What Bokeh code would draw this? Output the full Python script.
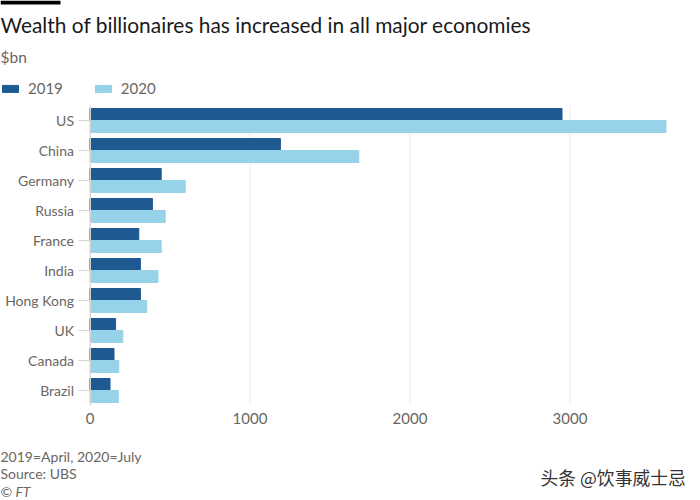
from bokeh.embed import file_html
from bokeh.models import BoxAnnotation, ColumnDataSource, FixedTicker, Label, Legend, LegendItem, Range1d
from bokeh.plotting import figure
from bokeh.resources import INLINE
from bokeh.transform import dodge

countries = ["US", "China", "Germany", "Russia", "France", "India", "Hong Kong", "UK", "Canada", "Brazil"]
wealth_2019 = [2950, 1190, 445, 390, 305, 315, 315, 160, 150, 125]
wealth_2020 = [3600, 1680, 595, 470, 445, 425, 355, 205, 180, 177]
x_ticks = [0, 1000, 2000, 3000]

TITLE = "Wealth of billionaires has increased in all major economies"
UNIT = "$bn"
NOTE = "2019=April, 2020=July"
SOURCE = "Source: UBS"
CREDIT = "© FT"
WATERMARK = "头条 @饮事威士忌"

FONT = "Lato"
TEXT = "#6b6662"
DARK = "#1e5a91"
LIGHT = "#96d3e8"
GRID = "#eeeeee"
AXIS = "#d5d5d5"

W, H = 692, 500
# the frame fills the canvas (annotations get clipped to it), so the ranges
# carry the margins: x=0 sits 90px in, 0.16px per $bn, rows are 30px apart
X0_PX, PX_PER_BN = 89.5, 0.16
ROW0_PX, ROW_PX = 120, 30

rows = list(range(len(countries)))
row_top, row_bottom = rows[0] - 0.5, rows[-1] + 0.5
src = ColumnDataSource({"row": rows, "y2019": wealth_2019, "y2020": wealth_2020})

p = figure(
    width=W,
    height=H,
    x_range=Range1d(-X0_PX / PX_PER_BN, (W - X0_PX) / PX_PER_BN),
    y_range=Range1d((H - ROW0_PX) / ROW_PX, -ROW0_PX / ROW_PX),
    output_backend="svg",
    toolbar_location=None,
    min_border=0,
)
p.outline_line_color = None
p.grid.visible = False

p.segment(x_ticks, [row_top] * len(x_ticks), x_ticks, [row_bottom] * len(x_ticks), color=GRID, line_width=1)
bar_2019 = p.hbar(y=dodge("row", -0.2), right="y2019", height=0.4, source=src, color=DARK)
bar_2020 = p.hbar(y=dodge("row", 0.2), right="y2020", height=0.4, source=src, color=LIGHT)

p.xaxis.fixed_location = row_bottom
p.xaxis.ticker = FixedTicker(ticks=x_ticks)
p.xaxis.axis_line_color = None
p.xaxis.major_tick_line_color = None
p.xaxis.minor_tick_line_color = None
p.xaxis.major_label_text_font = FONT
p.xaxis.major_label_text_font_size = "15px"
p.xaxis.major_label_text_color = TEXT
p.xaxis.major_label_standoff = 1

p.yaxis.fixed_location = 0
p.yaxis.bounds = (row_top, row_bottom)
p.yaxis.ticker = FixedTicker(ticks=rows)
p.yaxis.major_label_overrides = dict(zip(rows, countries))
p.yaxis.axis_line_color = AXIS
p.yaxis.major_tick_line_color = AXIS
p.yaxis.major_tick_out = 12
p.yaxis.major_tick_in = 0
p.yaxis.minor_tick_line_color = None
p.yaxis.major_label_text_font = FONT
p.yaxis.major_label_text_font_size = "14px"
p.yaxis.major_label_text_color = TEXT
p.yaxis.major_label_standoff = 4

legend = Legend(
    items=[LegendItem(label="2019", renderers=[bar_2019]), LegendItem(label="2020", renderers=[bar_2020])],
    orientation="horizontal",
    location=(0, H - 97),
    border_line_color=None,
    background_fill_alpha=0,
    margin=0,
    padding=0,
    spacing=30,
    glyph_width=20,
    glyph_height=9,
    label_standoff=8,
    label_text_font=FONT,
    label_text_font_size="15px",
    label_text_color=TEXT,
)
p.add_layout(legend, "center")

p.add_layout(BoxAnnotation(left=0, right=60, top=H, bottom=H - 4, left_units="screen", right_units="screen",
                           top_units="screen", bottom_units="screen", fill_color="black", fill_alpha=1,
                           line_color=None))


def note(text, x, y, size, color=TEXT, font=FONT, style="normal"):
    # x, y are pixels from the top left of the picture
    p.add_layout(Label(x=x, y=H - y, x_units="screen", y_units="screen", text=text, text_font=font,
                       text_font_size=size, text_color=color, text_font_style=style, text_baseline="middle"))


note(TITLE, 0, 24, "20.9px", color="#1a1a1a")
note(UNIT, 0, 56, "15.5px")
note(NOTE, 0, 456, "14px")
note(SOURCE, 0, 473, "14px")
note(CREDIT, 0, 491, "14px", style="italic")
note(WATERMARK, 540, 476, "17.8px", color="#333333", font="Noto Sans CJK SC")

open("out.html", "w").write(file_html(p, INLINE))
